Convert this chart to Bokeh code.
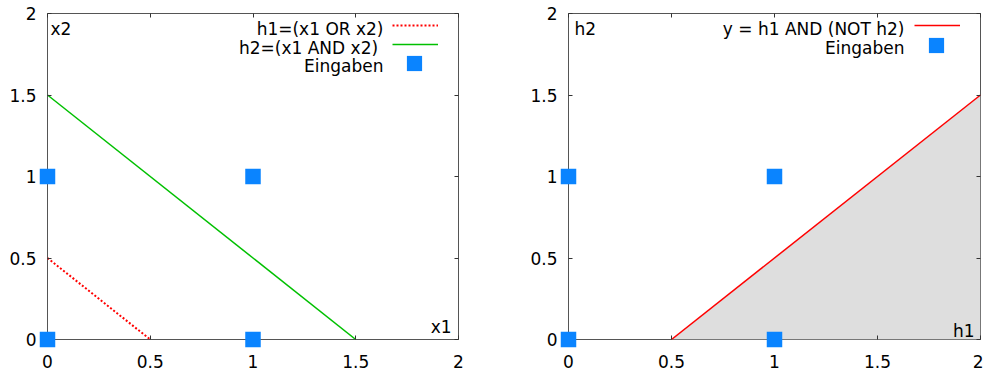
from bokeh.plotting import figure
from bokeh.layouts import row
from bokeh.models import (Range1d, FixedTicker, NumeralTickFormatter, LinearAxis,
                          Legend, LegendItem, Label)
from bokeh.embed import file_html
from bokeh.resources import INLINE

# ---------------- data ----------------
tick_values = [0, 0.5, 1, 1.5, 2]
inputs_x = [0, 0, 1, 1]
inputs_y = [0, 1, 0, 1]
h1_line_x = [0, 0.5]          # h1 = (x1 OR x2) boundary
h1_line_y = [0.5, 0]
h2_line_x = [0, 1.5]          # h2 = (x1 AND x2) boundary
h2_line_y = [1.5, 0]
y_line_h1 = [0.5, 2]          # y = h1 AND (NOT h2) boundary
y_line_h2 = [0, 1.5]
y_base = [0, 0]

left_legend_texts = ["h1=(x1 OR x2)", "h2=(x1 AND  x2)", "Eingaben"]
right_legend_texts = ["y = h1 AND (NOT h2)", "Eingaben"]

FONT = "DejaVu Sans"
TXT = "17px"
TICK = "17px"
BLUE = "#0a84ff"


def style_axes(p):
    for ax in p.axis:
        ax.ticker = FixedTicker(ticks=tick_values)
        ax.formatter = NumeralTickFormatter(format="0.[0]")
        ax.major_tick_in = 4
        ax.major_tick_out = 0
        ax.minor_tick_line_color = None
        ax.axis_line_color = None
        ax.major_tick_line_color = "#333333"
        ax.major_label_text_font = FONT
        ax.major_label_text_font_size = TICK
        ax.major_label_text_color = "black"
    p.xaxis.major_label_standoff = 15
    p.yaxis.major_label_standoff = 11
    for side in ("above", "right"):
        ax = LinearAxis(ticker=FixedTicker(ticks=tick_values),
                        major_tick_in=4, major_tick_out=0,
                        minor_tick_line_color=None, axis_line_color=None,
                        major_tick_line_color="#333333",
                        major_label_text_font_size="0px",
                        major_label_text_color=None,
                        major_label_standoff=0)
        p.add_layout(ax, side)


def make_fig(width, bl, br):
    p = figure(width=width, height=370, x_range=Range1d(0, 2), y_range=Range1d(0, 2),
               output_backend="svg", toolbar_location=None,
               min_border_left=bl, min_border_right=br,
               min_border_top=13, min_border_bottom=31)
    p.grid.visible = False
    p.outline_line_color = "#555555"
    p.outline_line_width = 1
    p.background_fill_color = "white"
    p.border_fill_color = "white"
    style_axes(p)
    return p


def add_label(p, x, y, text, align):
    p.add_layout(Label(x=x, y=y, text=text, text_font=FONT, text_font_size=TXT,
                       text_align=align, text_baseline="alphabetic", text_color="black"))


def make_legend(items, loc, gw, gh):
    # glyph-only legend (gnuplot style: texts are drawn to the left as labels)
    return Legend(items=items, location=loc, glyph_width=gw, glyph_height=gh,
                  label_height=gh, label_width=0, label_standoff=0,
                  label_text_color=None, label_text_font_size="1px",
                  padding=0, spacing=1, margin=0,
                  border_line_color=None, background_fill_alpha=0)


# ---------------- left plot ----------------
p1 = make_fig(508, 47, 50)
r_h1 = p1.line(h1_line_x, h1_line_y, line_color="#ff0000", line_width=2, line_dash="2 2")
r_h2 = p1.line(h2_line_x, h2_line_y, line_color="#00c000", line_width=1.5)
r_in1 = p1.scatter(inputs_x, inputs_y, marker="square", size=15.5,
                   fill_color=BLUE, line_color=None, level="overlay")
add_label(p1, 0.0146, 1.905, "x2", "left")
add_label(p1, 1.966, 0.079, "x1", "right")
for txt, yy in zip(left_legend_texts, [1.902, 1.789, 1.675]):
    add_label(p1, 1.635, yy, txt, "right")
leg_a1 = make_legend([LegendItem(label=left_legend_texts[0], renderers=[r_h1]),
                      LegendItem(label=left_legend_texts[1], renderers=[r_h2])],
                     (345, 286), 46, 18)
leg_b1 = make_legend([LegendItem(label=left_legend_texts[2], renderers=[r_in1])],
                     (348, 257), 38, 38)
p1.add_layout(leg_a1)
p1.add_layout(leg_b1)

# ---------------- right plot ----------------
p2 = make_fig(475, 60, 3)
p2.varea(x=y_line_h1, y1=y_base, y2=y_line_h2, fill_color="#dedede")
r_y = p2.line(y_line_h1, y_line_h2, line_color="#ff0000", line_width=1.5)
r_in2 = p2.scatter(inputs_x, inputs_y, marker="square", size=15.5,
                   fill_color=BLUE, line_color=None, level="overlay")
add_label(p2, 0.029, 1.905, "h2", "left")
add_label(p2, 1.971, 0.053, "h1", "right")
for txt, yy in zip(right_legend_texts, [1.902, 1.789]):
    add_label(p2, 1.631, yy, txt, "right")
leg_a2 = make_legend([LegendItem(label=right_legend_texts[0], renderers=[r_y])],
                     (346, 305), 46, 18)
leg_b2 = make_legend([LegendItem(label=right_legend_texts[1], renderers=[r_in2])],
                     (349, 275), 38, 38)
p2.add_layout(leg_a2)
p2.add_layout(leg_b2)

layout = row(p1, p2)
open("out.html", "w").write(file_html(layout, INLINE))
